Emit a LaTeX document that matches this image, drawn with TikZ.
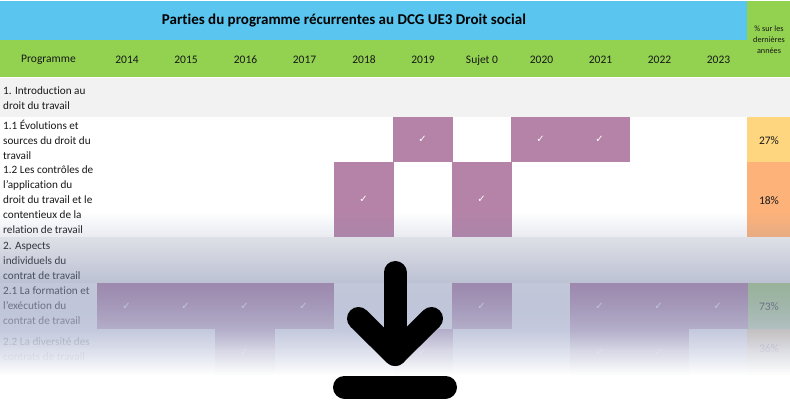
\documentclass[tikz,border=0pt]{standalone}
\usepackage{fontspec}
\setmainfont[Ligatures=NoCommon]{Carlito}
\newfontfamily\symfont{DejaVu Sans}
\definecolor{headblue}{RGB}{90,197,239}
\definecolor{headgreen}{RGB}{146,210,80}
\definecolor{sectgray}{RGB}{242,242,242}
\definecolor{cellpurple}{RGB}{181,131,168}
\definecolor{cellyellow}{RGB}{255,214,128}
\definecolor{cellorange}{RGB}{253,178,122}
\definecolor{cellgreen}{RGB}{172,214,128}
\definecolor{inkdark}{RGB}{24,24,24}
\tikzset{
  rowlabel/.style={anchor=west,align=left,inner sep=0pt,text=inkdark,font=\fontsize{11.2}{15}\selectfont},
  headlabel/.style={inner sep=0pt,text=inkdark,font=\fontsize{11.5}{14}\selectfont},
  pctlabel/.style={inner sep=0pt,text=inkdark,font=\fontsize{11.5}{14}\selectfont},
  checkmark/.style={inner sep=0pt,text=white,font=\symfont\fontsize{10}{10}\selectfont},
  dlicon/.style={draw=black,line width=23pt,line cap=round,line join=round},
}
\begin{document}
\begin{tikzpicture}[x=1pt,y=-1pt]
\useasboundingbox (0,0) rectangle (790,400);
\fill[white] (0,0) rectangle (790,400);
% header bands
\fill[headblue] (0,1) rectangle (747,40);
\fill[headgreen] (0,40) rectangle (747,77);
\fill[headgreen] (747,1) rectangle (790,77);
% section bands
\fill[sectgray] (0,78) rectangle (790,117);
\fill[sectgray] (0,237) rectangle (790,283);
% percentage cells
\fill[cellyellow] (747,117) rectangle (790,162);
\fill[cellorange] (747,162) rectangle (790,237);
\fill[cellgreen] (747,283) rectangle (790,329);
\fill[cellyellow] (747,329) rectangle (790,375);
% check cells: column start / top / bottom
\foreach \cx/\ca/\cb/\cn in {
  393/117/162/a1,511/117/162/a2,570/117/162/a3,
  334/162/237/b1,452/162/237/b2,
  97/283/329/c1,156/283/329/c2,215/283/329/c3,274/283/329/c4,
  452/283/329/c5,570/283/329/c6,629/283/329/c7,688/283/329/c8,
  215/329/375/d1,393/329/375/d2,570/329/375/d3,629/329/375/d4}{
  \fill[cellpurple] (\cx,\ca) rectangle ++(59.5,\cb-\ca);
  \node[checkmark] (chk\cn) at (\cx+29.5,{(\ca+\cb)/2}) {✓};
}
% headers
\node[inner sep=0pt,text=black,font=\bfseries\fontsize{15}{17}\selectfont] (title) at (344,21) {Parties du programme récurrentes au DCG UE3 Droit social};
\node[headlabel] (hprog) at (48.5,60) {Programme};
\foreach \hx/\hlab/\hn in {127/2014/y1,186/2015/y2,245.5/2016/y3,304.5/2017/y4,364/2018/y5,
  423/2019/y6,482/Sujet 0/y7,541.5/2020/y8,600.5/2021/y9,659.5/2022/y10,718.5/2023/y11}{
  \node[headlabel,anchor=base] (\hn) at (\hx,63) {\hlab};
}
\node[inner sep=0pt,align=center,text=inkdark,font=\fontsize{8.2}{11}\selectfont] (hpct) at (769,39.5) {\% sur les\\dernières\\années};
% row labels
\node[rowlabel] (r1)  at (3,98) {1. Introduction au\\droit du travail};
\node[rowlabel] (r11) at (3,140)  {1.1 Évolutions et\\sources du droit du\\travail};
\node[rowlabel] (r12) at (3,200)  {1.2 Les contrôles de\\l'application du\\droit du travail et le\\contentieux de la\\relation de travail};
\node[rowlabel] (r2)  at (3,261)  {2. Aspects\\individuels du\\contrat de travail};
\node[rowlabel] (r21) at (3,306)  {2.1 La formation et\\l'exécution du\\contrat de travail};
\node[rowlabel] (r22) at (3,349){2.2 La diversité des\\contrats de travail};
% percentages
\node[pctlabel] (p11) at (769,140.5) {27\%};
\node[pctlabel] (p12) at (769,200.5) {18\%};
\node[pctlabel] (p21) at (769,306.5) {73\%};
\node[pctlabel] (p22) at (769,348.5) {36\%};
% fade veil, one pixel high strips
\foreach \ya/\yb/\aa/\ab/\ra/\rb/\ga/\gb/\ba/\bb in {
  212/237/0/.18/135/135/145/145/181/181,
  237/283/.18/.5/135/135/145/145/181/181,
  283/329/.5/.78/135/180/145/187/181/212,
  329/350/.78/.93/180/218/187/222/212/235,
  350/375/.93/1/218/255/222/255/235/255}{
  \pgfmathtruncatemacro{\ylast}{\yb-1}
  \foreach \yy in {\ya,...,\ylast}{
    \pgfmathsetmacro{\tfrac}{(\yy-\ya)/(\yb-\ya)}
    \pgfmathsetmacro{\alp}{\aa+(\ab-\aa)*\tfrac}
    \pgfmathtruncatemacro{\vr}{\ra+(\rb-\ra)*\tfrac}
    \pgfmathtruncatemacro{\vg}{\ga+(\gb-\ga)*\tfrac}
    \pgfmathtruncatemacro{\vb}{\ba+(\bb-\ba)*\tfrac}
    \definecolor{veil}{RGB}{\vr,\vg,\vb}
    \fill[veil,fill opacity=\alp] (0,\yy) rectangle (790,\yy+1);
  }
}
\fill[white] (0,375) rectangle (790,400);
% download icon
\coordinate (shaftTop) at (395,272.5);
\coordinate (tip) at (395,354.5);
\coordinate (armL) at (358.5,318.5);
\coordinate (armR) at (431.5,318.5);
\coordinate (barL) at (344.5,387);
\coordinate (barR) at (445.5,387);
\draw[dlicon] (shaftTop) -- (tip);
\draw[dlicon] (armL) -- (tip) -- (armR);
\draw[dlicon] (barL) -- (barR);
\end{tikzpicture}
\end{document}
